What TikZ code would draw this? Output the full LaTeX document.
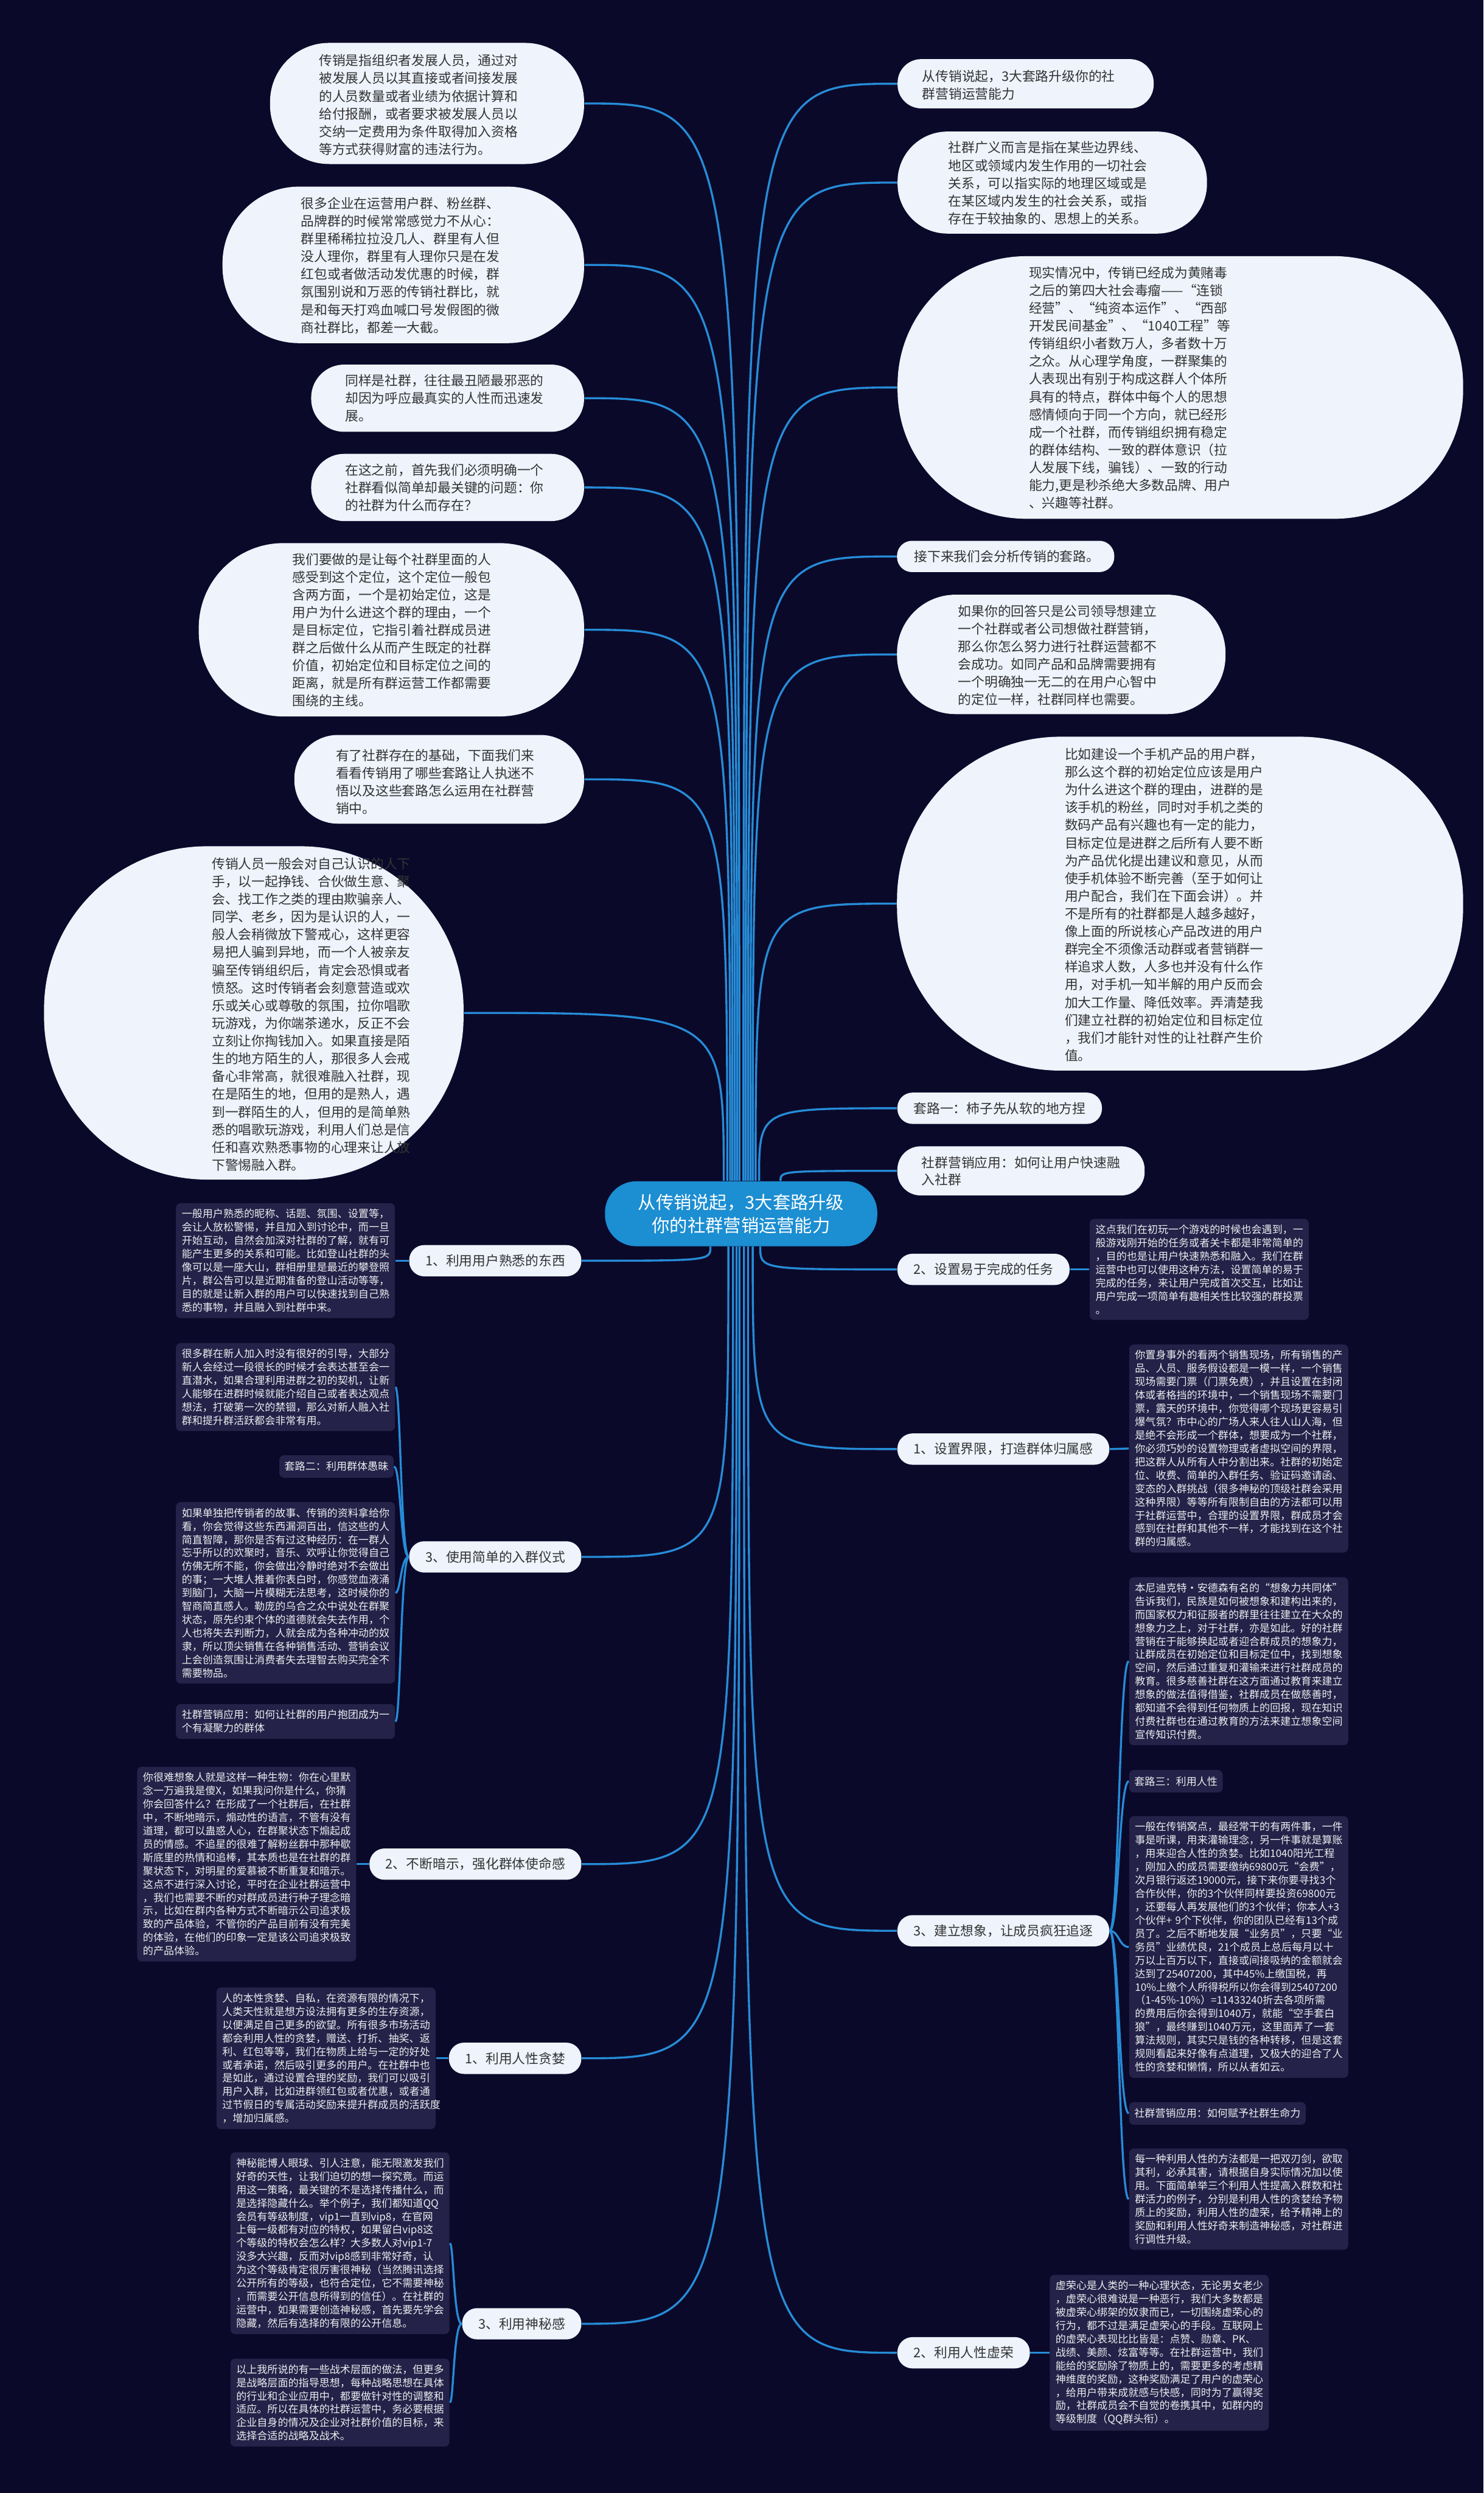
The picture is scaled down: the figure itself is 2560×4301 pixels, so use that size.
\documentclass[tikz,border=0pt]{standalone}
\usepackage{fontspec}
\setmainfont{Noto Sans CJK SC}
\usetikzlibrary{calc, fit}
\definecolor{colBack}{RGB}{11,9,42}
\definecolor{colLink}{RGB}{38,140,215}
\definecolor{colHub}{RGB}{28,142,210}
\definecolor{colBub}{RGB}{238,243,252}
\definecolor{colNote}{RGB}{36,34,72}
\definecolor{colInk}{RGB}{51,51,51}

\begin{document}
\begin{tikzpicture}[
  x=0.1mm, y=-0.1mm,
  hub/.style={fill=colHub, text=white, rounded corners=5.4mm, minimum width=47mm,
              minimum height=11.2mm, align=center, font=\fontsize{8.75pt}{11.4pt}\selectfont},
  bub/.style={fill=colBub, inner sep=0pt},
  btxt/.style={text=colInk, inner sep=0pt, align=left, font=\fontsize{6.5pt}{8.7pt}\selectfont},
  pill/.style={fill=colBub, text=colInk, rounded corners=2.6mm, inner xsep=2.8mm,
               minimum height=5.4mm, font=\fontsize{6.5pt}{8pt}\selectfont},
  note/.style={fill=colNote, text=white!92!colNote, rounded corners=0.8mm, inner xsep=1mm,
               inner ysep=1mm, text width=35.8mm, align=left, font=\fontsize{5.1pt}{6.55pt}\selectfont},
  tag/.style={fill=colNote, text=white!92!colNote, rounded corners=0.8mm, inner xsep=0.9mm,
              inner ysep=1.1mm, font=\fontsize{5.1pt}{6.55pt}\selectfont},
  link/.style={colLink, line width=1pt},
]
\fill[colBack] (0,0) rectangle (2560,4301);

% central topic
\node[hub] (hub) at (1279,2094) {从传销说起，3大套路升级\\你的社群营销运营能力};

% upper left bubbles
\node[bub, fit={(466,74) (1008,283)}, rounded corners=10.2mm] (def) {};
\node[btxt, anchor=west] (defT) at (550,181) {传销是指组织者发展人员，通过对\\被发展人员以其直接或者间接发展\\的人员数量或者业绩为依据计算和\\给付报酬，或者要求被发展人员以\\交纳一定费用为条件取得加入资格\\等方式获得财富的违法行为。};
\node[bub, fit={(384,322) (1008,592)}, rounded corners=13.2mm] (pain) {};
\node[btxt, anchor=west] (painT) at (519,458) {很多企业在运营用户群、粉丝群、\\品牌群的时候常常感觉力不从心：\\群里稀稀拉拉没几人、群里有人但\\没人理你，群里有人理你只是在发\\红包或者做活动发优惠的时候，群\\氛围别说和万恶的传销社群比，就\\是和每天打鸡血喊口号发假图的微\\商社群比，都差一大截。};
\node[bub, fit={(537,629) (1008,745)}, rounded corners=5.7mm] (ugly) {};
\node[btxt, anchor=west] (uglyT) at (595,687) {同样是社群，往往最丑陋最邪恶的\\却因为呼应最真实的人性而迅速发\\展。};
\node[bub, fit={(537,783) (1008,899)}, rounded corners=5.7mm] (why) {};
\node[btxt, anchor=west] (whyT) at (595,841) {在这之前，首先我们必须明确一个\\社群看似简单却最关键的问题：你\\的社群为什么而存在？};
\node[bub, fit={(343,937) (1008,1236)}, rounded corners=14.6mm] (aim) {};
\node[btxt, anchor=west] (aimT) at (504,1087) {我们要做的是让每个社群里面的人\\感受到这个定位，这个定位一般包\\含两方面，一个是初始定位，这是\\用户为什么进这个群的理由，一个\\是目标定位，它指引着社群成员进\\群之后做什么从而产生既定的社群\\价值，初始定位和目标定位之间的\\距离，就是所有群运营工作都需要\\围绕的主线。};
\node[bub, fit={(508,1268) (1008,1421)}, rounded corners=7.5mm] (next) {};
\node[btxt, anchor=west] (nextT) at (579,1349) {有了社群存在的基础，下面我们来\\看看传销用了哪些套路让人执迷不\\悟以及这些套路怎么运用在社群营\\销中。};
\node[bub, fit={(76,1460) (800,2035)}, rounded corners=28.1mm] (kin) {};
\node[btxt, anchor=west] (kinT) at (365,1750) {传销人员一般会对自己认识的人下\\手，以一起挣钱、合伙做生意、聚\\会、找工作之类的理由欺骗亲人、\\同学、老乡，因为是认识的人，一\\般人会稍微放下警戒心，这样更容\\易把人骗到异地，而一个人被亲友\\骗至传销组织后，肯定会恐惧或者\\愤怒。这时传销者会刻意营造或欢\\乐或关心或尊敬的氛围，拉你唱歌\\玩游戏，为你端茶递水，反正不会\\立刻让你掏钱加入。如果直接是陌\\生的地方陌生的人，那很多人会戒\\备心非常高，就很难融入社群，现\\在是陌生的地，但用的是熟人，遇\\到一群陌生的人，但用的是简单熟\\悉的唱歌玩游戏，利用人们总是信\\任和喜欢熟悉事物的心理来让人放\\下警惕融入群。};

% upper right bubbles
\node[bub, fit={(1549,102) (1991,187)}, rounded corners=4.1mm] (title) {};
\node[btxt, anchor=west] (titleT) at (1591,147) {从传销说起，3大套路升级你的社\\群营销运营能力};
\node[bub, fit={(1549,227) (2083,403)}, rounded corners=8.6mm] (scope) {};
\node[btxt, anchor=west] (scopeT) at (1636,316) {社群广义而言是指在某些边界线、\\地区或领域内发生作用的一切社会\\关系，可以指实际的地理区域或是\\在某区域内发生的社会关系，或指\\存在于较抽象的、思想上的关系。};
\node[bub, fit={(1549,442) (2525,895)}, rounded corners=22.2mm] (fact) {};
\node[btxt, anchor=west] (factT) at (1775,669) {现实情况中，传销已经成为黄赌毒\\之后的第四大社会毒瘤——“连锁\\经营”、“纯资本运作”、“西部\\开发民间基金”、“1040工程”等\\传销组织小者数万人，多者数十万\\之众。从心理学角度，一群聚集的\\人表现出有别于构成这群人个体所\\具有的特点，群体中每个人的思想\\感情倾向于同一个方向，就已经形\\成一个社群，而传销组织拥有稳定\\的群体结构、一致的群体意识（拉\\人发展下线，骗钱）、一致的行动\\能力,更是秒杀绝大多数品牌、用户\\、兴趣等社群。};
\node[bub, fit={(1548,933) (1923,987)}, rounded corners=2.6mm] (plan) {};
\node[btxt, anchor=west] (planT) at (1577,960) {接下来我们会分析传销的套路。};
\node[bub, fit={(1548,1026) (2115,1232)}, rounded corners=10.1mm] (answer) {};
\node[btxt, anchor=west] (answerT) at (1653,1131) {如果你的回答只是公司领导想建立\\一个社群或者公司想做社群营销，\\那么你怎么努力进行社群运营都不\\会成功。如同产品和品牌需要拥有\\一个明确独一无二的在用户心智中\\的定位一样，社群同样也需要。};
\node[bub, fit={(1548,1271) (2525,1847)}, rounded corners=28.2mm] (phone) {};
\node[btxt, anchor=west] (phoneT) at (1837,1561) {比如建设一个手机产品的用户群，\\那么这个群的初始定位应该是用户\\为什么进这个群的理由，进群的是\\该手机的粉丝，同时对手机之类的\\数码产品有兴趣也有一定的能力，\\目标定位是进群之后所有人要不断\\为产品优化提出建议和意见，从而\\使手机体验不断完善（至于如何让\\用户配合，我们在下面会讲）。并\\不是所有的社群都是人越多越好，\\像上面的所说核心产品改进的用户\\群完全不须像活动群或者营销群一\\样追求人数，人多也并没有什么作\\用，对手机一知半解的用户反而会\\加大工作量、降低效率。弄清楚我\\们建立社群的初始定位和目标定位\\，我们才能针对性的让社群产生价\\值。};

% right labels
\node[pill, anchor=west] (trick1) at (1548,1912) {套路一：柿子先从软的地方捏};
\node[pill, anchor=west, align=left, inner xsep=4.2mm, inner ysep=1.7mm, rounded corners=4mm,
      font=\fontsize{6.5pt}{8.4pt}\selectfont] (apply1) at (1548,2020) {社群营销应用：如何让用户快速融\\入社群};
\node[pill, anchor=west] (task) at (1548,2190) {2、设置易于完成的任务};
\node[pill, anchor=west] (bound) at (1548,2500) {1、设置界限，打造群体归属感};
\node[pill, anchor=west] (imagine) at (1548,3331) {3、建立想象，让成员疯狂追逐};
\node[pill, anchor=west] (vanity) at (1548,4059) {2、利用人性虚荣};

% left labels
\node[pill, anchor=east] (familiar) at (1004,2175) {1、利用用户熟悉的东西};
\node[pill, anchor=east] (ritual) at (1004,2686) {3、使用简单的入群仪式};
\node[pill, anchor=east] (hint) at (1004,3216) {2、不断暗示，强化群体使命感};
\node[pill, anchor=east] (greed) at (1004,3551) {1、利用人性贪婪};
\node[pill, anchor=east] (mystery) at (1004,4009) {3、利用神秘感};

% notes, right side
\node[note, anchor=west] (taskN) at (1880,2190) {这点我们在初玩一个游戏的时候也会遇到，一\\般游戏刚开始的任务或者关卡都是非常简单的\\，目的也是让用户快速熟悉和融入。我们在群\\运营中也可以使用这种方法，设置简单的易于\\完成的任务，来让用户完成首次交互，比如让\\用户完成一项简单有趣相关性比较强的群投票\\。};
\node[note, anchor=west] (boundN) at (1948,2499) {你置身事外的看两个销售现场，所有销售的产\\品、人员、服务假设都是一模一样，一个销售\\现场需要门票（门票免费），并且设置在封闭\\体或者格挡的环境中，一个销售现场不需要门\\票，露天的环境中，你觉得哪个现场更容易引\\爆气氛？市中心的广场人来人往人山人海，但\\是绝不会形成一个群体，想要成为一个社群，\\你必须巧妙的设置物理或者虚拟空间的界限，\\把这群人从所有人中分割出来。社群的初始定\\位、收费、简单的入群任务、验证码邀请函、\\变态的入群挑战（很多神秘的顶级社群会采用\\这种界限）等等所有限制自由的方法都可以用\\于社群运营中，合理的设置界限，群成员才会\\感到在社群和其他不一样，才能找到在这个社\\群的归属感。};
\node[note, anchor=west] (imagineA) at (1948,2866) {本尼迪克特·安德森有名的“想象力共同体”\\告诉我们，民族是如何被想象和建构出来的，\\而国家权力和征服者的群里往往建立在大众的\\想象力之上，对于社群，亦是如此。好的社群\\营销在于能够换起或者迎合群成员的想象力，\\让群成员在初始定位和目标定位中，找到想象\\空间，然后通过重复和灌输来进行社群成员的\\教育。很多慈善社群在这方面通过教育来建立\\想象的做法值得借鉴，社群成员在做慈善时，\\都知道不会得到任何物质上的回报，现在知识\\付费社群也在通过教育的方法来建立想象空间\\宣传知识付费。};
\node[tag, anchor=west] (trick3) at (1948,3073) {套路三：利用人性};
\node[note, anchor=west] (imagineB) at (1948,3359) {一般在传销窝点，最经常干的有两件事，一件\\事是听课，用来灌输理念，另一件事就是算账\\，用来迎合人性的贪婪。比如1040阳光工程\\，刚加入的成员需要缴纳69800元“会费”，\\次月银行返还19000元，接下来你要寻找3个\\合作伙伴，你的3个伙伴同样要投资69800元\\，还要每人再发展他们的3个伙伴；你本人+3\\个伙伴+~9个下伙伴，你的团队已经有13个成\\员了。之后不断地发展“业务员”，只要“业\\务员”业绩优良，21个成员上总后每月以十\\万以上百万以下，直接或间接吸纳的金额就会\\达到了25407200，其中45\%上缴国税，再\\10\%上缴个人所得税所以你会得到25407200\\*（1-45\%-10\%）=11433240折去各项所需\\的费用后你会得到1040万，就能“空手套白\\狼”，最终赚到1040万元，这里面弄了一套\\算法规则，其实只是钱的各种转移，但是这套\\规则看起来好像有点道理，又极大的迎合了人\\性的贪婪和懒惰，所以从者如云。};
\node[tag, anchor=west] (apply3) at (1948,3646) {社群营销应用：如何赋予社群生命力};
\node[note, anchor=west] (imagineC) at (1948,3794) {每一种利用人性的方法都是一把双刃剑，欲取\\其利，必承其害，请根据自身实际情况加以使\\用。下面简单举三个利用人性提高入群数和社\\群活力的例子，分别是利用人性的贪婪给予物\\质上的奖励，利用人性的虚荣，给予精神上的\\奖励和利用人性好奇来制造神秘感，对社群进\\行调性升级。};
\node[note, anchor=west] (vanityN) at (1811,4059) {虚荣心是人类的一种心理状态，无论男女老少\\，虚荣心很难说是一种恶行，我们大多数都是\\被虚荣心绑架的奴隶而已，一切围绕虚荣心的\\行为，都不过是满足虚荣心的手段。互联网上\\的虚荣心表现比比皆是：点赞、勋章、PK、\\战绩、美颜、炫富等等。在社群运营中，我们\\能给的奖励除了物质上的，需要更多的考虑精\\神维度的奖励，这种奖励满足了用户的虚荣心\\，给用户带来成就感与快感，同时为了赢得奖\\励，社群成员会不自觉的卷携其中，如群内的\\等级制度（QQ群头衔）。};

% notes, left side
\node[note, anchor=west] (familiarN) at (303,2175) {一般用户熟悉的昵称、话题、氛围、设置等，\\会让人放松警惕，并且加入到讨论中，而一旦\\开始互动，自然会加深对社群的了解，就有可\\能产生更多的关系和可能。比如登山社群的头\\像可以是一座大山，群相册里是最近的攀登照\\片，群公告可以是近期准备的登山活动等等，\\目的就是让新入群的用户可以快速找到自己熟\\悉的事物，并且融入到社群中来。};
\node[note, anchor=west] (ritualA) at (303,2393) {很多群在新人加入时没有很好的引导，大部分\\新人会经过一段很长的时候才会表达甚至会一\\直潜水，如果合理利用进群之初的契机，让新\\人能够在进群时候就能介绍自己或者表达观点\\想法，打破第一次的禁锢，那么对新人融入社\\群和提升群活跃都会非常有用。};
\node[tag, anchor=east] (trick2) at (680,2530) {套路二：利用群体愚昧};
\node[note, anchor=west] (ritualB) at (303,2748) {如果单独把传销者的故事、传销的资料拿给你\\看，你会觉得这些东西漏洞百出，信这些的人\\简直智障，那你是否有过这种经历：在一群人\\忘乎所以的欢聚时，音乐、欢呼让你觉得自己\\仿佛无所不能，你会做出冷静时绝对不会做出\\的事；一大堆人推着你表白时，你感觉血液涌\\到脑门，大脑一片模糊无法思考，这时候你的\\智商简直感人。勒庞的乌合之众中说处在群聚\\状态，原先约束个体的道德就会失去作用，个\\人也将失去判断力，人就会成为各种冲动的奴\\隶，所以顶尖销售在各种销售活动、营销会议\\上会创造氛围让消费者失去理智去购买完全不\\需要物品。};
\node[note, anchor=west] (apply2) at (303,2970) {社群营销应用：如何让社群的用户抱团成为一\\个有凝聚力的群体};
\node[note, anchor=west] (hintN) at (236,3216) {你很难想象人就是这样一种生物：你在心里默\\念一万遍我是傻X，如果我问你是什么，你猜\\你会回答什么？在形成了一个社群后，在社群\\中，不断地暗示，煽动性的语言，不管有没有\\道理，都可以蛊惑人心，在群聚状态下煽起成\\员的情感。不追星的很难了解粉丝群中那种歇\\斯底里的热情和追棒，其本质也是在社群的群\\聚状态下，对明星的爱慕被不断重复和暗示。\\这点不进行深入讨论，平时在企业社群运营中\\，我们也需要不断的对群成员进行种子理念暗\\示，比如在群内各种方式不断暗示公司追求极\\致的产品体验，不管你的产品目前有没有完美\\的体验，在他们的印象一定是该公司追求极致\\的产品体验。};
\node[note, anchor=west] (greedN) at (373,3551) {人的本性贪婪、自私，在资源有限的情况下，\\人类天性就是想方设法拥有更多的生存资源，\\以便满足自己更多的欲望。所有很多市场活动\\都会利用人性的贪婪，赠送、打折、抽奖、返\\利、红包等等，我们在物质上给与一定的好处\\或者承诺，然后吸引更多的用户。在社群中也\\是如此，通过设置合理的奖励，我们可以吸引\\用户入群，比如进群领红包或者优惠，或者通\\过节假日的专属活动奖励来提升群成员的活跃度\\，增加归属感。};
\node[note, anchor=west] (mysteryA) at (397,3870) {神秘能博人眼球、引人注意，能无限激发我们\\好奇的天性，让我们迫切的想一探究竟。而运\\用这一策略，最关键的不是选择传播什么，而\\是选择隐藏什么。举个例子，我们都知道QQ\\会员有等级制度，vip1一直到vip8，在官网\\上每一级都有对应的特权，如果留白vip8这\\个等级的特权会怎么样？大多数人对vip1-7\\没多大兴趣，反而对vip8感到非常好奇，认\\为这个等级肯定很厉害很神秘（当然腾讯选择\\公开所有的等级，也符合定位，它不需要神秘\\，而需要公开信息所得到的信任）。在社群的\\运营中，如果需要创造神秘感，首先要先学会\\隐藏，然后有选择的有限的公开信息。};
\node[note, anchor=west] (mysteryB) at (397,4145) {以上我所说的有一些战术层面的做法，但更多\\是战略层面的指导思想，每种战略思想在具体\\的行业和企业应用中，都要做针对性的调整和\\适应。所以在具体的社群运营中，务必要根据\\企业自身的情况及企业对社群价值的目标，来\\选择合适的战略及战术。};

% branches out of the central topic
\foreach \b/\dx in {def/-3, pain/-7, ugly/-11, why/-15, aim/-19, next/-24, kin/-30}
  \draw[link] ($(hub.north)+(\dx,0)$) .. controls ($(hub.north |- \b.east)+(\dx,0)$) .. (\b.east);
\foreach \b/\dx in {title/4, scope/8, fact/12, plan/16, answer/20, phone/25, trick1/31, apply1/68}
  \draw[link] ($(hub.north)+(\dx,0)$) .. controls ($(hub.north |- \b.west)+(\dx,0)$) .. (\b.west);
\foreach \b/\dx in {task/33, bound/20, imagine/12, vanity/5}
  \draw[link] ($(hub.south)+(\dx,0)$) .. controls ($(hub.south |- \b.west)+(\dx,0)$) .. (\b.west);
\foreach \b/\dx in {familiar/-53, ritual/-22, hint/-14, greed/-8, mystery/-3}
  \draw[link] ($(hub.south)+(\dx,0)$) .. controls ($(hub.south |- \b.east)+(\dx,0)$) .. (\b.east);

% labels to their notes
\draw[link] (familiar.west) -- (familiarN.east);
\draw[link] (hint.west) -- (hintN.east);
\draw[link] (greed.west) -- (greedN.east);
\draw[link] (task.east) -- (taskN.west);
\draw[link] (bound.east) -- (boundN.west);
\draw[link] (vanity.east) -- (vanityN.west);
\foreach \n in {ritualA, trick2, ritualB, apply2}
  \draw[link] (ritual.west) .. controls ($(ritual.west)+(-14,0)$) and ($(ritual.west |- \n.east)+(-14,0)$) .. (\n.east);
\foreach \n in {mysteryA, mysteryB}
  \draw[link] (mystery.west) .. controls ($(mystery.west)+(-14,0)$) and ($(mystery.west |- \n.east)+(-14,0)$) .. (\n.east);
\foreach \n in {imagineA, trick3, imagineB, apply3, imagineC}
  \draw[link] (imagine.east) .. controls ($(imagine.east)+(16,0)$) and ($(imagine.east |- \n.west)+(16,0)$) .. (\n.west);

\end{tikzpicture}
\end{document}
